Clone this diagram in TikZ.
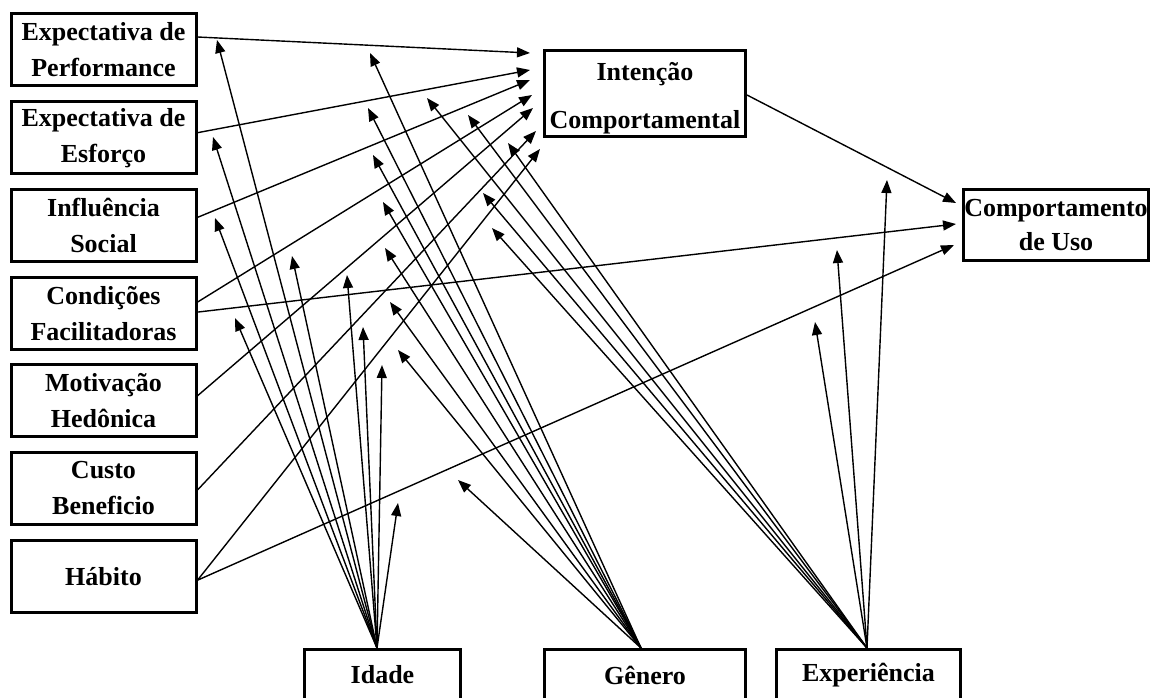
\documentclass[tikz,border=0pt]{standalone}
\usepackage{fontspec}
\setmainfont{Liberation Serif}
\usetikzlibrary{arrows.meta,calc}
\begin{document}
\begin{tikzpicture}[x=1pt,y=-1pt,
  box/.style={draw,line width=3pt,rectangle,inner sep=0pt,align=center,
    font=\fontsize{26}{36}\selectfont\bfseries},
  lbox/.style={box,minimum width=185pt,minimum height=72pt},
  bbox/.style={box,minimum height=51pt},
  link/.style={line width=1.4pt,-{Triangle[length=13pt,width=10pt]}},
]
\useasboundingbox (0,0) rectangle (1154,698);

% constructs
\node[lbox] (pe) at (103.5,50)    {Expectativa de\\Performance};
\node[lbox] (ee) at (103.5,137.7) {Expectativa de\\Esforço};
\node[lbox] (si) at (103.5,225.4) {Influência\\Social};
\node[lbox] (fc) at (103.5,313.1) {Condições\\Facilitadoras};
\node[lbox] (hm) at (103.5,400.8) {Motivação\\Hedônica};
\node[lbox] (pv) at (103.5,488.5) {Custo\\Beneficio};
\node[lbox] (ht) at (103.5,576.2) {Hábito};

\node[box,minimum width=201pt,minimum height=86pt,
      font=\fontsize{26}{48}\selectfont\bfseries] (bi) at (645,93.5)
      {\rule{0pt}{27pt}Intenção\\Comportamental};
\node[box,minimum width=185pt,minimum height=71pt,
      font=\fontsize{26}{34}\selectfont\bfseries] (use) at (1056,225) {Comportamento\\de Uso};

% moderators
\node[bbox,minimum width=156pt] (age) at (382.5,675) {Idade};
\node[bbox,minimum width=201pt] (gen) at (645,675)   {Gênero};
\node[bbox,minimum width=184pt] (exp) at (868.5,675) {Experiência};

\coordinate (ageo) at ($(age.north)+(-5.5,0)$);
\coordinate (geno) at ($(gen.north)+(-4,0)$);
\coordinate (expo) at ($(exp.north)+(-1.5,0)$);

% arrow tips in front of the outcome boxes
\coordinate (t1) at (530,53);
\coordinate (t2) at (530,70);
\coordinate (t3) at (530,80);
\coordinate (t4) at (532,95);
\coordinate (t5) at (533,108);
\coordinate (t6) at (536,131);
\coordinate (t7) at (540,149);
\coordinate (u1) at (956,203);
\coordinate (u2) at (956,224);
\coordinate (u3) at (954,245);

% direct effects
\draw[link] ($(pe.east)+(0,-13)$) -- (t1);
\draw[link] ($(ee.east)+(0,-5)$)  -- (t2);
\draw[link] ($(si.east)+(0,-8)$)  -- (t3);
\draw[link] ($(fc.east)+(0,-11)$) -- (t4);
\draw[link] ($(hm.east)+(0,-5)$)  -- (t5);
\draw[link] ($(pv.east)+(0,1.5)$) -- (t6);
\draw[link] ($(ht.east)+(0,4)$)   -- (t7);
\draw[link] ($(bi.east)+(0,1.5)$) -- (u1);
\draw[link] ($(fc.east)+(0,-1)$)  -- (u2);
\draw[link] ($(ht.east)+(0,4)$)   -- (u3);

% moderating effects of age
\coordinate (i1) at (217,40);
\coordinate (i2) at (213,137);
\coordinate (i3) at (215,218);
\coordinate (i4) at (292,256);
\coordinate (i5) at (235,318);
\coordinate (i6) at (347,275);
\coordinate (i7) at (363,327);
\coordinate (i8) at (382,365);
\coordinate (i9) at (398,503);
\foreach \t in {i1,i2,i3,i4,i5,i6,i7,i8,i9}
  \draw[link] (ageo) -- (\t);

% moderating effects of gender
\coordinate (g1) at (370,53);
\coordinate (g2) at (368,108);
\coordinate (g3) at (373,155);
\coordinate (g4) at (383,202);
\coordinate (g5) at (385,248);
\coordinate (g6) at (390,302);
\coordinate (g7) at (398,350);
\coordinate (g8) at (458,480);
\foreach \t in {g1,g2,g3,g4,g5,g6,g7,g8}
  \draw[link] (geno) -- (\t);

% moderating effects of experience
\coordinate (e1) at (427,98);
\coordinate (e2) at (468,115);
\coordinate (e3) at (508,143);
\coordinate (e4) at (483,193);
\coordinate (e5) at (492,228);
\coordinate (e6) at (887,180);
\coordinate (e7) at (837,250);
\coordinate (e8) at (815,322);
\foreach \t in {e1,e2,e3,e4,e5,e6,e7,e8}
  \draw[link] (expo) -- (\t);
\end{tikzpicture}
\end{document}
